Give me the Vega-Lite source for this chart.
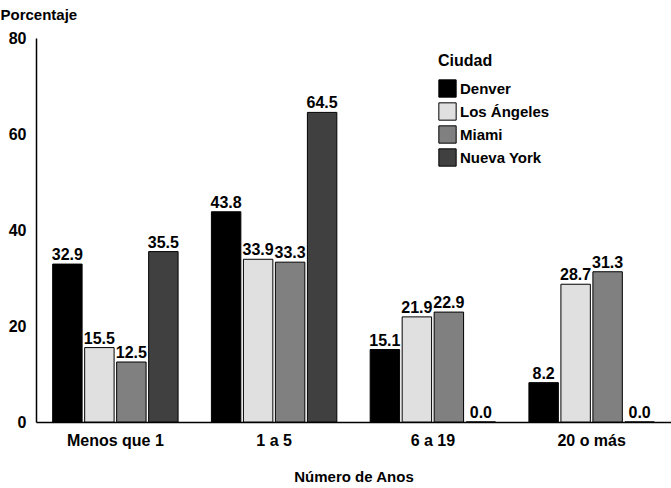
{
  "$schema": "https://vega.github.io/schema/vega-lite/v6.json",
  "width": 635,
  "height": 384,
  "autosize": {"type": "none"},
  "padding": {"left": 36, "top": 38, "right": 0, "bottom": 66},
  "background": "white",
  "config": {
    "font": "Liberation Sans",
    "view": {"stroke": null},
    "axis": {"grid": false, "ticks": false, "domainColor": "black", "domainWidth": 1.5, "labelColor": "black", "titleColor": "black", "labelFontWeight": "bold", "titleFontWeight": "bold", "labelFontSize": 16, "titleFontSize": 15}
  },
  "data": {
    "values": [
      {"anos": "Menos que 1", "ciudad": "Denver", "pct": 32.9},
      {"anos": "Menos que 1", "ciudad": "Los Ángeles", "pct": 15.5},
      {"anos": "Menos que 1", "ciudad": "Miami", "pct": 12.5},
      {"anos": "Menos que 1", "ciudad": "Nueva York", "pct": 35.5},
      {"anos": "1 a 5", "ciudad": "Denver", "pct": 43.8},
      {"anos": "1 a 5", "ciudad": "Los Ángeles", "pct": 33.9},
      {"anos": "1 a 5", "ciudad": "Miami", "pct": 33.3},
      {"anos": "1 a 5", "ciudad": "Nueva York", "pct": 64.5},
      {"anos": "6 a 19", "ciudad": "Denver", "pct": 15.1},
      {"anos": "6 a 19", "ciudad": "Los Ángeles", "pct": 21.9},
      {"anos": "6 a 19", "ciudad": "Miami", "pct": 22.9},
      {"anos": "6 a 19", "ciudad": "Nueva York", "pct": 0.0},
      {"anos": "20 o más", "ciudad": "Denver", "pct": 8.2},
      {"anos": "20 o más", "ciudad": "Los Ángeles", "pct": 28.7},
      {"anos": "20 o más", "ciudad": "Miami", "pct": 31.3},
      {"anos": "20 o más", "ciudad": "Nueva York", "pct": 0.0}
    ]
  },
  "encoding": {
    "x": {
      "field": "anos", "type": "nominal", "sort": ["Menos que 1", "1 a 5", "6 a 19", "20 o más"],
      "scale": {"paddingInner": 0.21, "paddingOuter": 0.105},
      "axis": {"title": "Número de Anos", "labelAngle": 0, "labelPadding": 10, "titlePadding": 21}
    },
    "xOffset": {"field": "ciudad", "type": "nominal", "sort": ["Denver", "Los Ángeles", "Miami", "Nueva York"], "scale": {"paddingInner": 0.08}},
    "y": {
      "field": "pct", "type": "quantitative", "scale": {"domain": [0, 80], "nice": false},
      "axis": {"title": "Porcentaje", "titleAngle": 0, "titleAlign": "left", "titleBaseline": "bottom", "titleX": -36, "titleY": -16, "values": [0, 20, 40, 60, 80], "labelPadding": 10}
    }
  },
  "layer": [
    {
      "mark": {"type": "bar", "stroke": "black", "strokeWidth": 1},
      "encoding": {
        "color": {
          "field": "ciudad", "type": "nominal", "sort": ["Denver", "Los Ángeles", "Miami", "Nueva York"],
          "scale": {"domain": ["Denver", "Los Ángeles", "Miami", "Nueva York"], "range": ["#000000", "#e0e0e0", "#808080", "#404040"]},
          "legend": {
            "title": "Ciudad", "orient": "none", "legendX": 402, "legendY": 15,
            "symbolType": "square", "symbolSize": 300, "symbolStrokeColor": "black", "symbolStrokeWidth": 1,
            "titleFontSize": 16, "titleFontWeight": "bold", "titleColor": "black",
            "labelFontSize": 15, "labelFontWeight": "bold", "labelColor": "black",
            "rowPadding": 0, "titlePadding": 10, "labelOffset": 3
          }
        }
      }
    },
    {
      "mark": {"type": "text", "baseline": "bottom", "dy": -1, "fontSize": 16, "fontWeight": "bold", "color": "black"},
      "encoding": {"text": {"field": "pct", "type": "quantitative", "format": ".1f"}}
    }
  ]
}
